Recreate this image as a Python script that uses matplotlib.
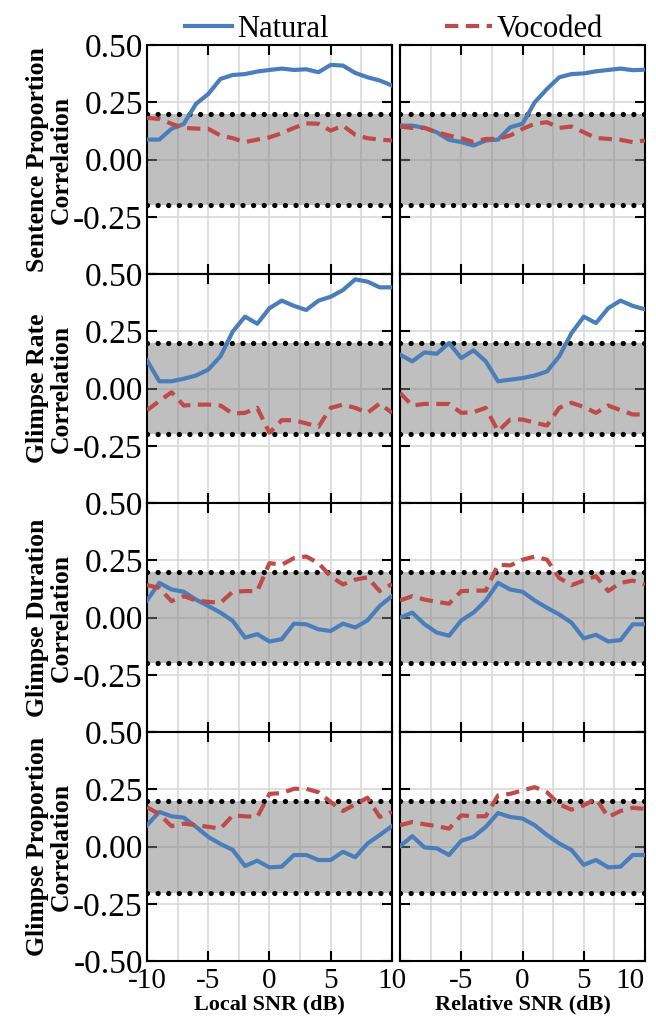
import matplotlib
matplotlib.use("Agg")
import matplotlib.pyplot as plt
from matplotlib.lines import Line2D

plt.rcParams["font.family"] = ["Liberation Serif", "DejaVu Serif"]
plt.rcParams["axes.unicode_minus"] = False

# SNR axis (dB), 1 dB steps
snr = list(range(-10, 11))

measures = ["Sentence Proportion", "Glimpse Rate", "Glimpse Duration", "Glimpse Proportion"]
xlabels = ["Local SNR (dB)", "Relative SNR (dB)"]

# ---- Sentence Proportion ----
sp_local_nat = [0.087, 0.087, 0.134, 0.155, 0.243, 0.286, 0.352, 0.369, 0.373, 0.384, 0.391,
                0.397, 0.391, 0.394, 0.381, 0.413, 0.410, 0.378, 0.359, 0.345, 0.323]
sp_local_voc = [0.182, 0.177, 0.156, 0.138, 0.135, 0.134, 0.105, 0.093, 0.076, 0.087, 0.097,
                0.115, 0.138, 0.158, 0.156, 0.126, 0.148, 0.108, 0.093, 0.087, 0.083]
sp_rel_nat = [0.148, 0.148, 0.138, 0.119, 0.086, 0.076, 0.061, 0.083, 0.087, 0.141, 0.156,
              0.250, 0.308, 0.359, 0.373, 0.376, 0.385, 0.391, 0.397, 0.390, 0.392]
sp_rel_voc = [0.144, 0.138, 0.138, 0.119, 0.105, 0.093, 0.076, 0.090, 0.090, 0.105, 0.134,
              0.156, 0.163, 0.138, 0.144, 0.119, 0.094, 0.090, 0.086, 0.076, 0.083]

# ---- Glimpse Rate ----
gr_local_nat = [0.123, 0.032, 0.032, 0.043, 0.057, 0.083, 0.141, 0.249, 0.314, 0.283, 0.351,
                0.384, 0.361, 0.343, 0.384, 0.401, 0.430, 0.477, 0.467, 0.442, 0.442]
gr_local_voc = [-0.094, -0.055, -0.016, -0.074, -0.070, -0.070, -0.074, -0.109, -0.106, -0.084, -0.193,
                -0.138, -0.138, -0.152, -0.167, -0.084, -0.070, -0.084, -0.106, -0.065, -0.106]
gr_rel_nat = [0.148, 0.119, 0.158, 0.152, 0.199, 0.133, 0.167, 0.119, 0.032, 0.039, 0.046,
              0.057, 0.075, 0.141, 0.242, 0.314, 0.286, 0.351, 0.384, 0.361, 0.346]
gr_rel_voc = [-0.019, -0.074, -0.067, -0.067, -0.067, -0.106, -0.103, -0.084, -0.186, -0.135, -0.135,
              -0.149, -0.161, -0.084, -0.062, -0.080, -0.106, -0.074, -0.094, -0.113, -0.113]

# ---- Glimpse Duration ----
gd_local_nat = [0.075, 0.152, 0.123, 0.113, 0.079, 0.051, 0.022, -0.014, -0.087, -0.072, -0.104,
                -0.094, -0.026, -0.029, -0.051, -0.058, -0.026, -0.043, -0.012, 0.051, 0.094]
gd_local_voc = [0.142, 0.130, 0.072, 0.094, 0.075, 0.069, 0.065, 0.113, 0.116, 0.116, 0.238,
                0.231, 0.260, 0.267, 0.238, 0.180, 0.145, 0.166, 0.176, 0.116, 0.147]
gd_rel_nat = [0.000, 0.022, -0.029, -0.065, -0.079, -0.012, 0.022, 0.075, 0.152, 0.123, 0.113,
              0.075, 0.043, 0.014, -0.022, -0.090, -0.075, -0.104, -0.098, -0.029, -0.029]
gd_rel_voc = [0.075, 0.094, 0.079, 0.069, 0.061, 0.116, 0.118, 0.118, 0.231, 0.228, 0.253,
              0.267, 0.253, 0.173, 0.142, 0.162, 0.181, 0.116, 0.152, 0.162, 0.145]

# ---- Glimpse Proportion ----
gp_local_nat = [0.094, 0.152, 0.133, 0.127, 0.087, 0.043, 0.012, -0.014, -0.084, -0.061, -0.090,
                -0.087, -0.036, -0.036, -0.058, -0.058, -0.022, -0.046, 0.014, 0.051, 0.090]
gp_local_voc = [0.173, 0.142, 0.090, 0.101, 0.094, 0.087, 0.079, 0.137, 0.133, 0.130, 0.231,
                0.234, 0.253, 0.253, 0.238, 0.195, 0.156, 0.185, 0.214, 0.130, 0.152]
gp_rel_nat = [0.003, 0.046, -0.003, -0.007, -0.036, 0.026, 0.043, 0.087, 0.147, 0.130, 0.123,
              0.094, 0.051, 0.014, -0.014, -0.079, -0.058, -0.090, -0.087, -0.036, -0.036]
gp_rel_voc = [0.094, 0.108, 0.098, 0.090, 0.079, 0.137, 0.133, 0.133, 0.224, 0.231, 0.246,
              0.260, 0.238, 0.185, 0.162, 0.181, 0.209, 0.130, 0.156, 0.170, 0.165]

natural = [[sp_local_nat, sp_rel_nat], [gr_local_nat, gr_rel_nat],
           [gd_local_nat, gd_rel_nat], [gp_local_nat, gp_rel_nat]]
vocoded = [[sp_local_voc, sp_rel_voc], [gr_local_voc, gr_rel_voc],
           [gd_local_voc, gd_rel_voc], [gp_local_voc, gp_rel_voc]]

blue = "#4a7ebb"
red = "#be4b48"

fig, axes = plt.subplots(4, 2, figsize=(6.56, 10.27), dpi=100)
fig.subplots_adjust(left=0.2241, right=0.9832, top=0.9562, bottom=0.064,
                    hspace=0, wspace=0.033)

for r in range(4):
    for c in range(2):
        ax = axes[r, c]
        ax.set_axisbelow(True)
        ax.axhspan(-0.2, 0.2, color="#818181", alpha=0.5, lw=0, zorder=1)
        for yy in (-0.2, 0.2):
            ax.axhline(yy, color="black", lw=3.8, linestyle=(0, (0.01, 2.0)),
                       dash_capstyle="round", zorder=2)
        ax.plot(snr, natural[r][c], color=blue, lw=3, zorder=3)
        ax.plot(snr, vocoded[r][c], color=red, lw=3, dashes=(3.2, 1.8), zorder=3)

        ax.set_xlim(-10, 10)
        ax.set_ylim(-0.5, 0.5)
        ax.set_xticks([-10, -5, 0, 5, 10])
        ax.set_xticks([-7.5, -2.5, 2.5, 7.5], minor=True)
        ax.set_yticks([-0.5, -0.25, 0, 0.25, 0.5])
        ax.grid(True, which="both", axis="x", color="#d9d9d9", lw=1.2)
        ax.grid(True, which="major", axis="y", color="#d9d9d9", lw=1.2)
        ax.tick_params(which="major", direction="in", top=True, right=True,
                       length=7, width=1.5)
        ax.tick_params(axis="y", pad=3, labelsize=24)
        ax.tick_params(axis="x", pad=5, labelsize=21)
        ax.tick_params(which="minor", length=0)
        for s in ax.spines.values():
            s.set_linewidth(1.5)

        if r == 3:
            if c == 0:
                ax.set_xticklabels(["-10", "-5", "0", "5", "10"])
            else:
                ax.set_xticklabels(["", "-5", "0", "5", "10"])
                ax.get_xticklabels()[-1].set_ha("right")
            ax.set_xlabel(xlabels[c], fontsize=16, fontweight="bold", labelpad=0)
        else:
            ax.tick_params(labelbottom=False)

        if c == 0:
            first = "-0.50" if r == 3 else ""
            ax.set_yticklabels([first, "-0.25", "0.00", "0.25", "0.50"])
            ax.set_ylabel(measures[r] + "\nCorrelation", fontsize=18.5,
                          fontweight="bold", labelpad=0, linespacing=1.05)
        else:
            ax.tick_params(labelleft=False)

fig.align_ylabels(axes[:, 0])

handles = [Line2D([], [], color=blue, lw=3),
           Line2D([], [], color=red, lw=3, dashes=(3.2, 1.8))]
fig.legend(handles, ["Natural", "Vocoded"], loc="upper center",
           bbox_to_anchor=(0.6006, 1.012), ncol=2, frameon=False, fontsize=22,
           handlelength=1.55, handletextpad=0.15, columnspacing=3.8)

fig.savefig("out.png", dpi=100)
